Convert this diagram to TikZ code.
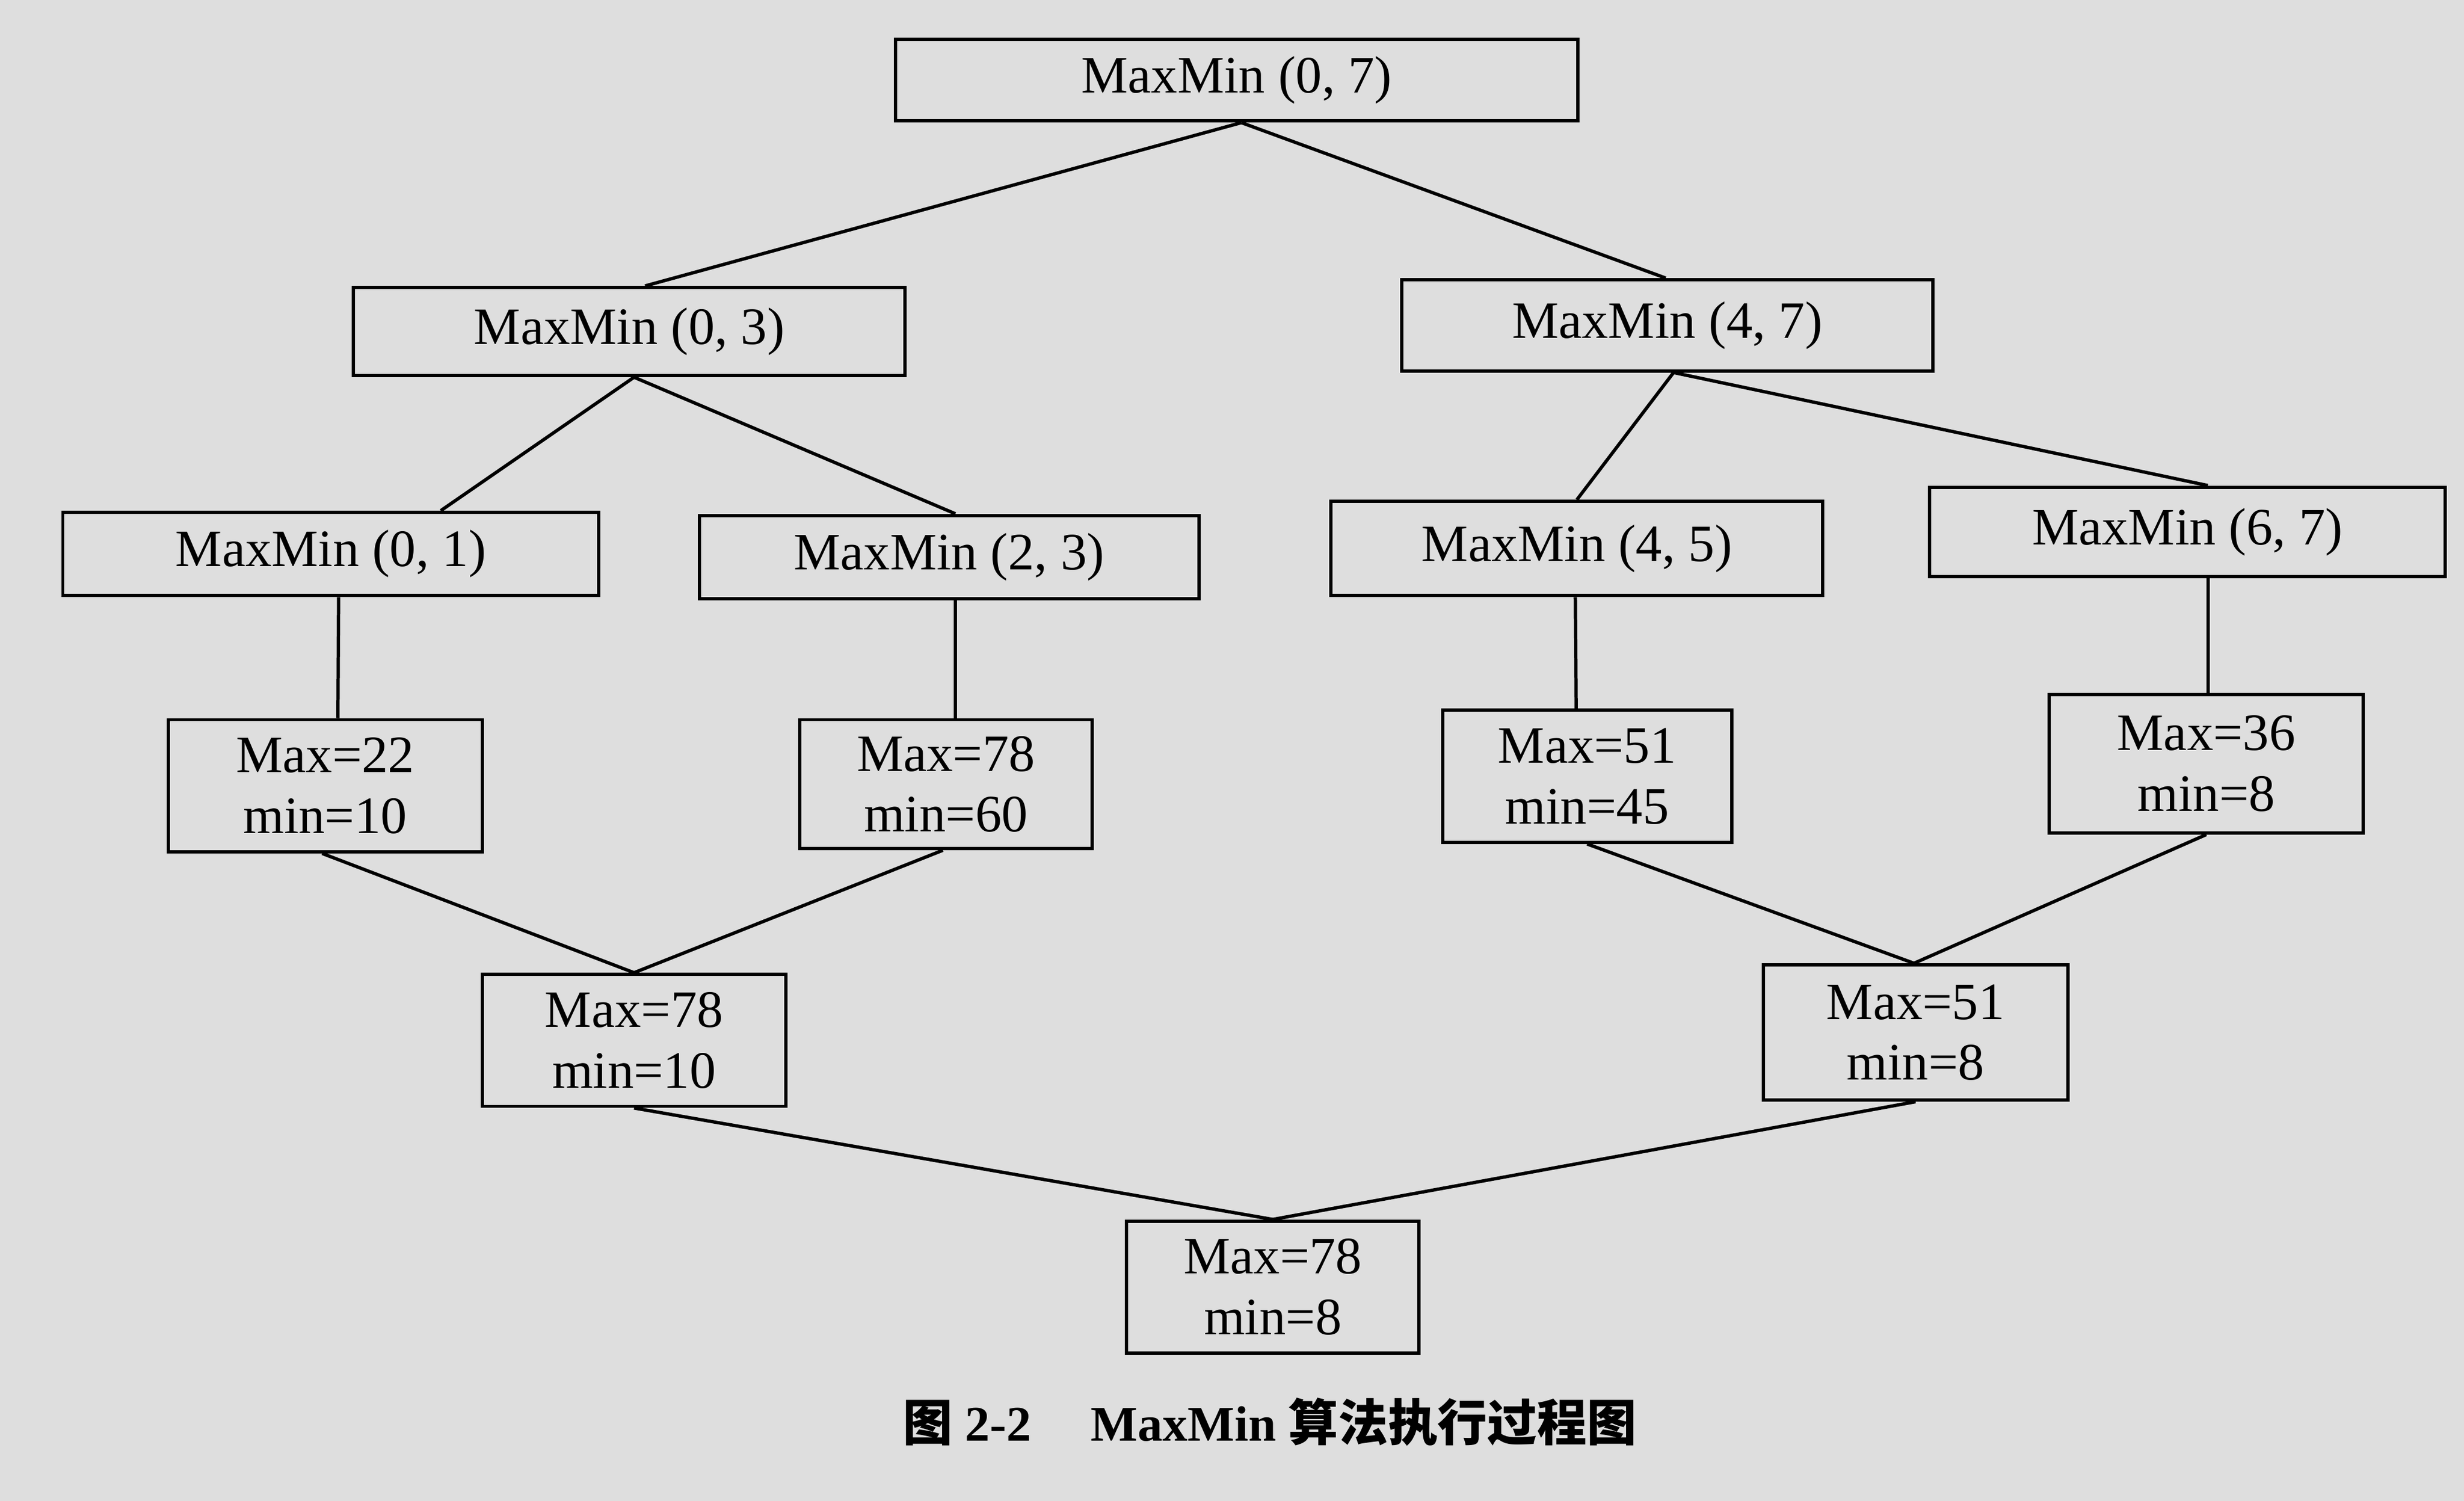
\documentclass[tikz,border=0pt]{standalone}
\usepackage{fontspec}
\setmainfont{Liberation Serif}
\newfontfamily\cjk{Noto Sans CJK SC}
\usetikzlibrary{calc}
\begin{document}
\begin{tikzpicture}[x=0.01cm,y=-0.01cm,
  bx/.style={draw,line width=0.6pt,inner sep=0pt,align=center,font=\fontsize{9.5}{11}\selectfont},
  ln/.style={line width=0.6pt}]
\fill[black!13] (0,0) rectangle (1568,955);
\useasboundingbox (0,0) rectangle (1568,955);
\newcommand\bxat[6]{\node[bx,minimum width=(#3-#2)*0.01cm,minimum height=(#5-#4)*0.01cm] (#1) at ({(#2+#3)/2},{(#4+#5)/2}) {#6};}
\bxat{r}{570}{1004}{25}{77}{MaxMin (0, 7)}
\bxat{a}{225}{576}{183}{239}{MaxMin (0, 3)}
\bxat{b}{892}{1230}{178}{236}{MaxMin (4, 7)}
\bxat{c}{40}{381}{326}{379}{MaxMin (0, 1)}
\bxat{d}{445}{763}{328}{381}{MaxMin (2, 3)}
\bxat{e}{847}{1160}{319}{379}{MaxMin (4, 5)}
\bxat{f}{1228}{1556}{310}{367}{MaxMin (6, 7)}
\bxat{g}{107}{307}{458}{542}{Max=22\\min=10}
\bxat{h}{509}{695}{458}{540}{Max=78\\min=60}
\bxat{i}{918}{1102}{452}{536}{Max=51\\min=45}
\bxat{j}{1304}{1504}{442}{530}{Max=36\\min=8}
\bxat{k}{307}{500}{620}{704}{Max=78\\min=10}
\bxat{l}{1122}{1316}{614}{700}{Max=51\\min=8}
\bxat{m}{717}{903}{777}{861}{Max=78\\min=8}
\draw[ln] ($(r.south)+(3,0)$) -- ($(a.north)+(10,0)$);
\draw[ln] ($(r.south)+(3,0)$) -- ($(b.north)+(-1,0)$);
\draw[ln] ($(a.south)+(3,0)$) -- ($(c.north)+(70,0)$);
\draw[ln] ($(a.south)+(3,0)$) -- ($(d.north)+(4,0)$);
\draw[ln] ($(b.south)+(4,0)$) -- ($(e.north)+(0,0)$);
\draw[ln] ($(b.south)+(4,0)$) -- ($(f.north)+(13,0)$);
\draw[ln] ($(c.south)+(5,0)$) -- ($(g.north)+(8,0)$);
\draw[ln] ($(d.south)+(4,0)$) -- ($(h.north)+(6,0)$);
\draw[ln] ($(e.south)+(-1,0)$) -- ($(i.north)+(-7,0)$);
\draw[ln] ($(f.south)+(13,0)$) -- ($(j.north)+(1,0)$);
\draw[ln] ($(g.south)+(-2,0)$) -- ($(k.north)+(0,0)$);
\draw[ln] ($(h.south)+(-2,0)$) -- ($(k.north)+(0,0)$);
\draw[ln] ($(i.south)+(0,0)$) -- ($(l.north)+(-1,0)$);
\draw[ln] ($(j.south)+(0,0)$) -- ($(l.north)+(-1,0)$);
\draw[ln] ($(k.south)+(0,0)$) -- ($(m.north)+(0,0)$);
\draw[ln] ($(l.south)+(0,0)$) -- ($(m.north)+(0,0)$);
\node[font=\fontsize{9}{11}\selectfont\bfseries] (cap) at (808,905) {{\cjk 图} 2-2\hspace{1.2em}MaxMin {\cjk 算法执行过程图}};
\end{tikzpicture}
\end{document}
